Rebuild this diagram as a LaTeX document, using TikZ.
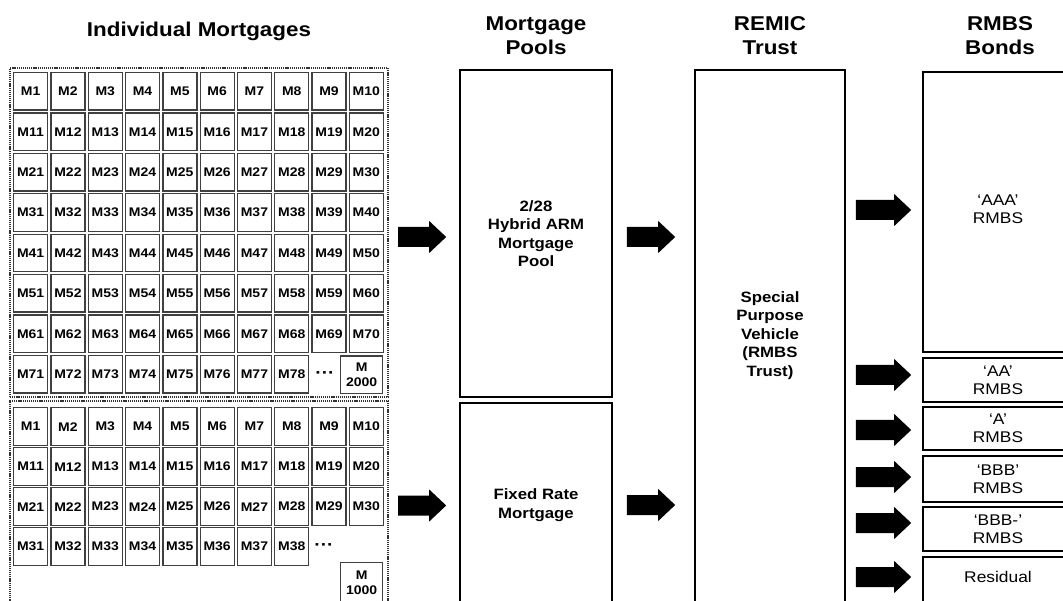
\documentclass[tikz,border=0pt]{standalone}
\usepackage{fontspec}
\setmainfont{Liberation Sans}[FakeStretch=1.12]
\usetikzlibrary{calc}

\tikzset{
  header/.style={align=center, font=\fontsize{20}{24}\selectfont\bfseries},
  cell/.style={draw=black!75, line width=1.3pt, fill=white, inner sep=0pt,
    minimum width=34pt, minimum height=37.5pt, anchor=north west, align=center,
    font=\fontsize{12.5}{15}\selectfont\bfseries},
  dots/.style={inner sep=0pt, font=\fontsize{17}{15}\selectfont\bfseries},
  group/.style={draw=black!80, line width=2pt, dash pattern=on 1.2pt off 0.9pt, inner sep=0pt},
  box/.style={draw, line width=1.6pt, inner sep=0pt, align=center},
  pooltext/.style={font=\fontsize{15}{18.5}\selectfont\bfseries},
  bondtext/.style={font=\fontsize{15.5}{18}\selectfont},
  % block arrow drawn between two points, taking its height from the start point
  bigarrow/.style={to path={let \p1=(\tikztostart), \p2=(\tikztotarget) in
    (\x1,\y1+10pt) -- (\x2-17pt,\y1+10pt) -- (\x2-17pt,\y1+16pt) -- (\x2,\y1)
    -- (\x2-17pt,\y1-16pt) -- (\x2-17pt,\y1-10pt) -- (\x1,\y1-10pt) -- cycle}}
}

\begin{document}
\begin{tikzpicture}[x=1pt, y=-1pt]
\useasboundingbox (0,0) rectangle (1063,601);
\clip (0,0) rectangle (1063,601);
\fill[white] (0,0) rectangle (1063,601);

% column headings
\node[header] (h1) at (199,31) {Individual Mortgages};
\node[header] (h2) at (536,36) {Mortgage\\Pools};
\node[header] (h3) at (770,36) {REMIC\\Trust};
\node[header] (h4) at (1000,36) {RMBS\\Bonds};

% groups of individual mortgages
\node[group, minimum width=378pt, minimum height=329pt] (g1) at (199,232.5) {};
\node[group, minimum width=378pt, minimum height=209pt] (g2) at (199,505.5) {};

% first group: M1 ... M78, then M2000
\foreach \r in {0,...,7}{
  \foreach \c in {0,...,9}{
    \pgfmathtruncatemacro\n{10*\r+\c+1}
    \ifnum\n<79
      \node[cell] (a\n) at ({13+37.3*\c},{72+40.4*\r}) {M\n};
    \fi
  }
}
\node[dots] (adots) at (325,375) {···};
\node[cell, minimum width=42pt] (a2000) at (340,355.5) {M\\2000};

% second group: M1 ... M38, then M1000
\foreach \r in {0,...,3}{
  \foreach \c in {0,...,9}{
    \pgfmathtruncatemacro\n{10*\r+\c+1}
    \ifnum\n<39
      \node[cell, minimum height=38pt] (b\n) at ({13+37.3*\c},{407+40*\r}) {M\n};
    \fi
  }
}
\node[dots] (bdots) at (324,547) {···};
\node[cell, minimum width=42pt, minimum height=40pt] (b1000) at (340,562) {M\\1000};

% mortgage pools
\node[box, minimum width=152pt, minimum height=327pt] (pool1) at (536,233.5) {};
\node[pooltext, align=center] at (pool1.center) {2/28\\Hybrid ARM\\Mortgage\\Pool};
\node[box, minimum width=152pt, minimum height=204pt] (pool2) at (536,505) {};
\node[pooltext, align=center] at (pool2.center) {Fixed Rate\\Mortgage};

% REMIC trust
\node[box, minimum width=150pt, minimum height=537pt] (remic) at (770,338.5) {};
\node[pooltext, align=center] at ([yshift=3pt]remic.center) {Special\\Purpose\\Vehicle\\(RMBS\\Trust)};

% RMBS bonds
\node[box, minimum width=150pt, minimum height=280pt] (aaa) at (998,212) {};
\node[box, minimum width=150pt, minimum height=44pt] (aa) at (998,380) {};
\node[box, minimum width=150pt, minimum height=43pt] (a) at (998,428.5) {};
\node[box, minimum width=150pt, minimum height=46pt] (bbb) at (998,479) {};
\node[box, minimum width=150pt, minimum height=44pt] (bbbm) at (998,529) {};
\node[box, minimum width=150pt, minimum height=50pt] (res) at (998,582) {};
\node[bondtext, align=center] at ([yshift=3pt]aaa.center) {‘AAA’\\RMBS};
\node[bondtext, align=center] at (aa.center) {‘AA’\\RMBS};
\node[bondtext, align=center] at (a.center) {‘A’\\RMBS};
\node[bondtext, align=center] at (bbb.center) {‘BBB’\\RMBS};
\node[bondtext, align=center] at (bbbm.center) {‘BBB-’\\RMBS};
\node[bondtext, align=center] at ([yshift=5pt]res.center) {Residual};

% flow arrows
\fill ($(g1.east)+(9,4.5)$) to[bigarrow] ([xshift=-13pt]pool1.west);
\fill ($(pool1.east)+(14,3.5)$) to[bigarrow] ([xshift=-19pt]remic.west);
\fill ($(g2.east)+(9,0)$) to[bigarrow] ([xshift=-13pt]pool2.west);
\fill ($(pool2.east)+(14,0)$) to[bigarrow] ([xshift=-19pt]remic.west);

\fill ($(remic.east |- aaa.west)+(10,-2)$) to[bigarrow] ([xshift=-11pt]aaa.west);
\fill ($(remic.east |- aa.west)+(10,-5)$) to[bigarrow] ([xshift=-11pt]aa.west);
\fill ($(remic.east |- a.west)+(10,1.5)$) to[bigarrow] ([xshift=-11pt]a.west);
\fill ($(remic.east |- bbb.west)+(10,-2)$) to[bigarrow] ([xshift=-11pt]bbb.west);
\fill ($(remic.east |- bbbm.west)+(10,-6)$) to[bigarrow] ([xshift=-11pt]bbbm.west);
\fill ($(remic.east |- res.west)+(10,-5)$) to[bigarrow] ([xshift=-11pt]res.west);
\end{tikzpicture}
\end{document}
